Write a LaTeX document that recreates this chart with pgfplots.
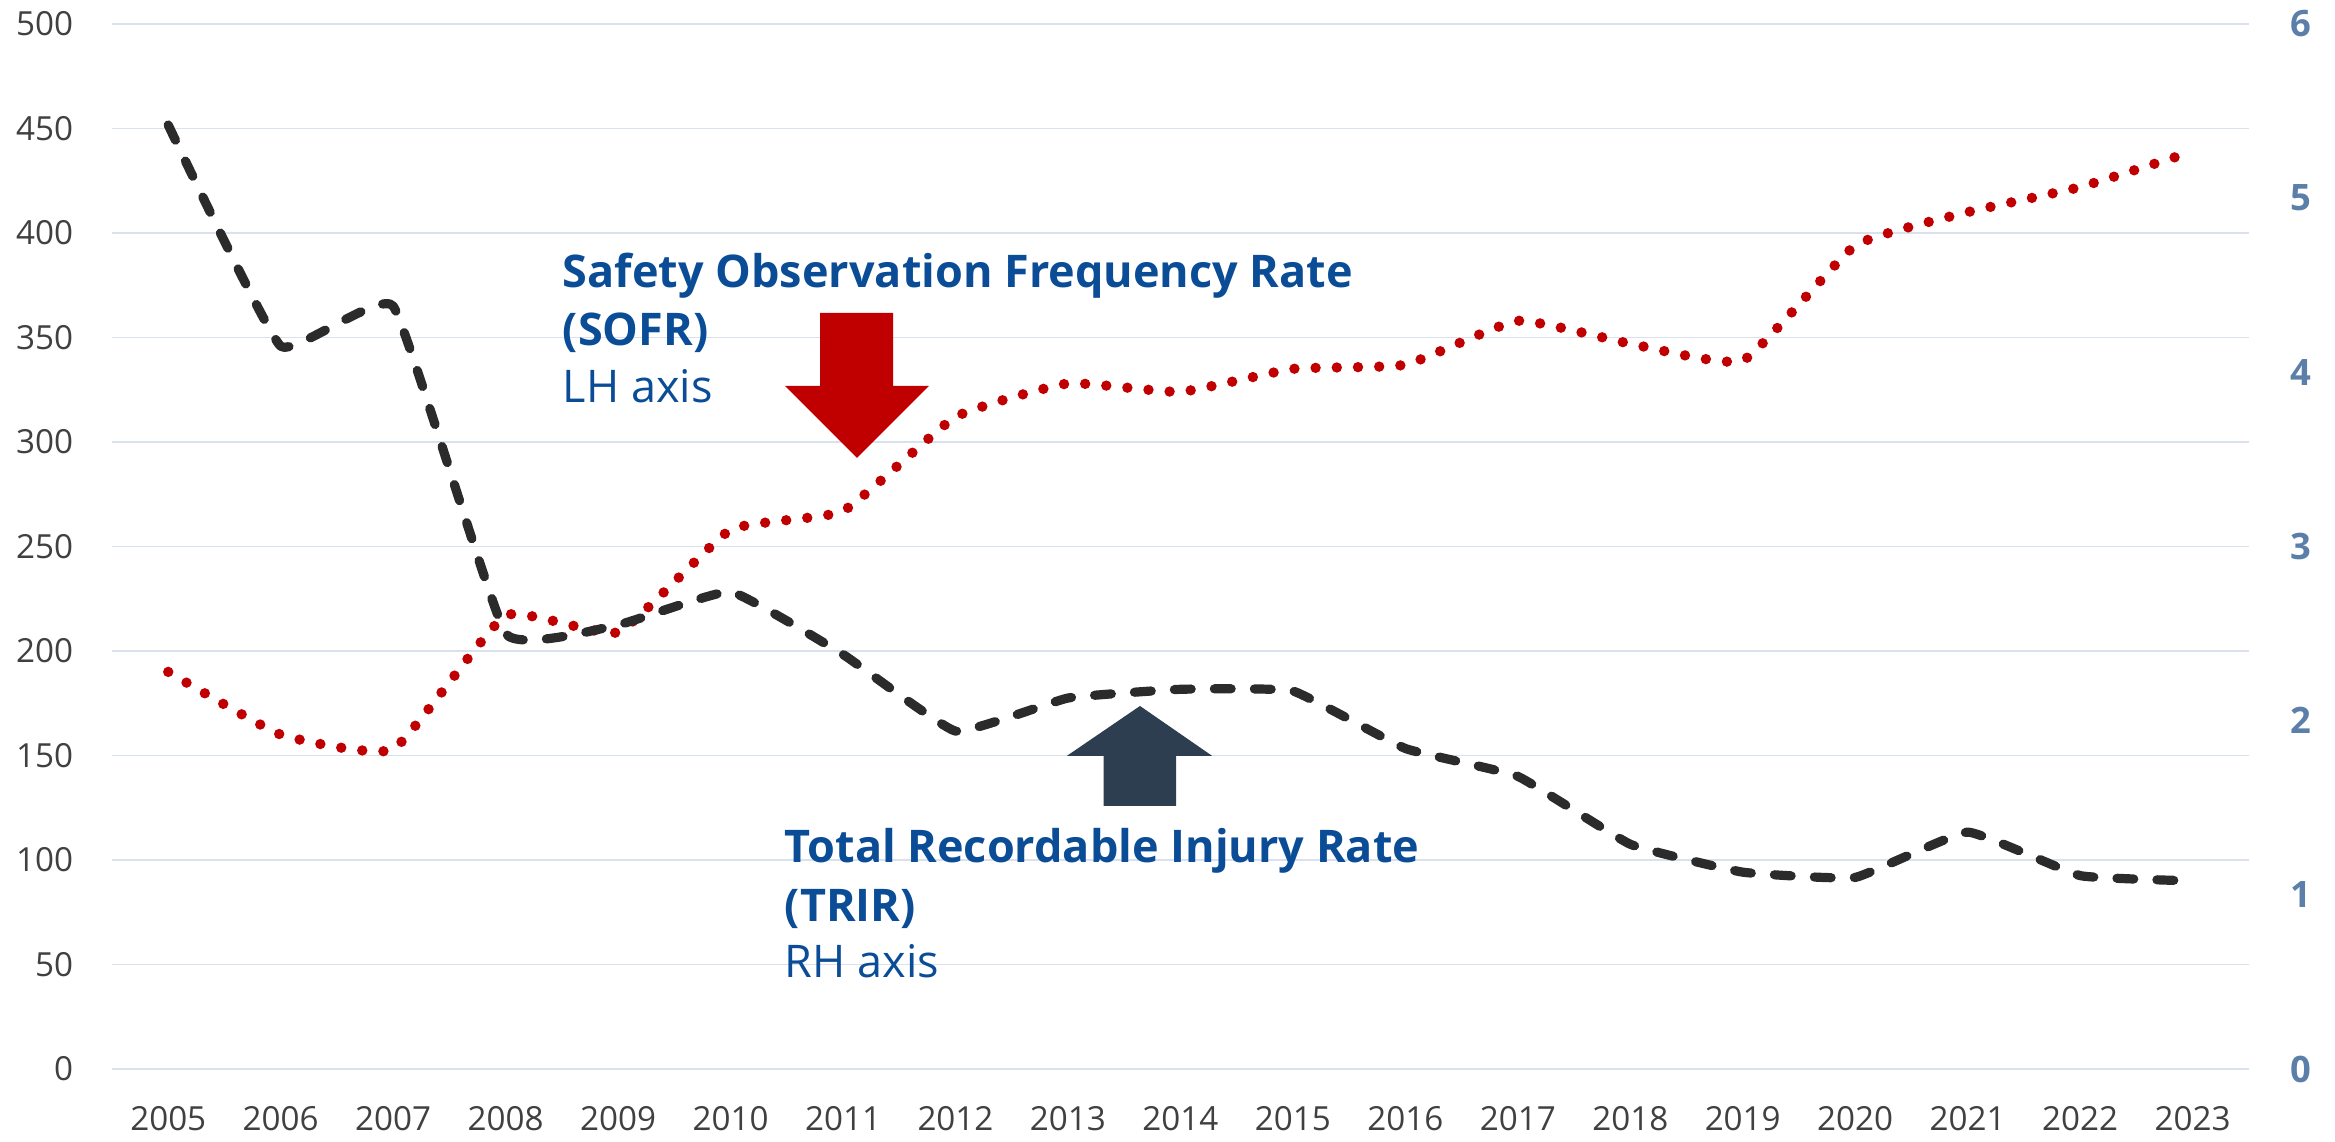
\documentclass[border=0pt]{standalone}
\usepackage{fontspec}
\setmainfont{Open Sans}
\usepackage{pgfplots}
\pgfplotsset{compat=1.18}
\definecolor{sofr}{HTML}{C00000}
\definecolor{trir}{HTML}{2B2B2B}
\definecolor{gridc}{HTML}{D9E2EC}
\definecolor{ltick}{HTML}{404040}
\definecolor{rtick}{HTML}{5B7FA8}
\definecolor{anno}{HTML}{0B4C97}
\definecolor{uparr}{HTML}{2D3E50}
\pgfplotstableread{
year sofr
2005 190
2006 160
2007 153
2008 217
2009 209
2010 258
2011 267
2012 312
2013 328
2014 324
2015 335
2016 337
2017 358
2018 347
2019 339
2020 394
2021 410
2022 422
2023 439
}\sofrdata
\pgfplotstableread{
year trir
2005 5.42
2006 4.15
2007 4.38
2008 2.50
2009 2.55
2010 2.74
2011 2.38
2012 1.94
2013 2.13
2014 2.18
2015 2.17
2016 1.84
2017 1.68
2018 1.29
2019 1.13
2020 1.10
2021 1.36
2022 1.11
2023 1.08
}\trirdata
\begin{document}
\begin{tikzpicture}
\pgfplotsset{
  base/.style={scale only axis, width=534.25pt, height=261.25pt,
    xmin=2004.5, xmax=2023.5,
    axis line style={draw=none}, major tick length=0pt, tick style={draw=none},
    /pgf/number format/assume math mode=true, clip=false}
}
\begin{axis}[base, ymin=0, ymax=500, ytick={0,50,...,500},
  ymajorgrids, grid style={gridc, line width=0.45pt},
  axis y line*=left, axis x line*=bottom,
  xtick={2005,...,2023},
  x tick label style={/pgf/number format/.cd, 1000 sep={}, /tikz/.cd,
    font=\fontsize{8.3}{10}\selectfont, text=ltick, anchor=north, inner sep=0pt, yshift=-9.1pt},
  y tick label style={font=\fontsize{8.3}{10}\selectfont, text=ltick, anchor=east, inner sep=0pt, xshift=-9.5pt},
]
\addplot[sofr, line width=2.6pt, line cap=round, dash pattern=on 0pt off 5.3pt, smooth, tension=0.25] table[x=year, y=sofr] {\sofrdata};
\end{axis}
\begin{axis}[base, ymin=0, ymax=6, ytick={0,...,6},
  axis y line*=right, axis x line=none,
  y tick label style={font=\bfseries\fontsize{9.1}{11}\selectfont, text=rtick, anchor=west, inner sep=0pt, xshift=10.25pt},
]
\addplot[trir, line width=2.3pt, line cap=round, line join=round, dash pattern=on 4.2pt off 5.8pt, smooth, tension=0.2] table[x=year, y=trir] {\trirdata};
\end{axis}
% annotations
\fill[sofr] (177pt,189pt) -- (195.25pt,189pt) -- (195.25pt,170.75pt) -- (204.25pt,170.75pt) -- (186.25pt,152.75pt) -- (168.25pt,170.75pt) -- (177pt,170.75pt) -- cycle;
\fill[uparr] (247.9pt,65.8pt) -- (266pt,65.8pt) -- (266pt,78.3pt) -- (275pt,78.3pt) -- (257pt,90.75pt) -- (238.75pt,78.3pt) -- (247.9pt,78.3pt) -- cycle;
\node[anchor=base west, inner sep=0pt, text=anno, font=\bfseries\fontsize{11.25}{14}\selectfont] at (112.5pt,195.25pt) {Safety Observation Frequency Rate};
\node[anchor=base west, inner sep=0pt, text=anno, font=\bfseries\fontsize{11.25}{14}\selectfont] at (112.5pt,180.75pt) {(SOFR)};
\node[anchor=base west, inner sep=0pt, text=anno, font=\fontsize{11.25}{14}\selectfont] at (112.5pt,166.6pt) {LH axis};
\node[anchor=base west, inner sep=0pt, text=anno, font=\bfseries\fontsize{11.25}{14}\selectfont] at (168pt,51.5pt) {Total Recordable Injury Rate};
\node[anchor=base west, inner sep=0pt, text=anno, font=\bfseries\fontsize{11.25}{14}\selectfont] at (168pt,36.8pt) {(TRIR)};
\node[anchor=base west, inner sep=0pt, text=anno, font=\fontsize{11.25}{14}\selectfont] at (168pt,22.75pt) {RH axis};
\pgfresetboundingbox
\path[use as bounding box] (-28pt,-18.25pt) rectangle (555.75pt,267.25pt);
\end{tikzpicture}
\end{document}
